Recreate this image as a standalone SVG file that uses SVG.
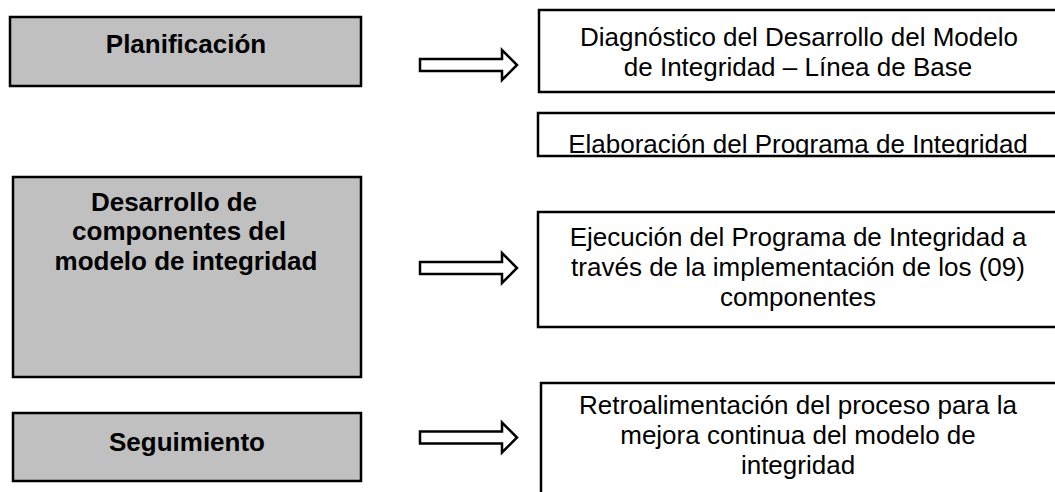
<svg xmlns="http://www.w3.org/2000/svg" xmlns:xlink="http://www.w3.org/1999/xlink" width="1055" height="492" viewBox="0 0 1055 492">
<style>
.phase{fill:#c0c0c0;stroke:#000;stroke-width:2.5}
.step{fill:#fff;stroke:#000;stroke-width:2.5}
.bt{font-family:"Liberation Sans",Arial,sans-serif;font-weight:bold;font-size:26px;fill:#000;text-anchor:middle}
.nt{font-family:"Liberation Sans",Arial,sans-serif;font-size:26px;fill:#000;text-anchor:middle}
.arr{fill:#fff;stroke:#000;stroke-width:2.5;stroke-linejoin:miter}
</style>
<defs>
<polygon id="arrow" points="0,-6 82,-6 82,-15 97,0 82,15 82,6 0,6"/>
<clipPath id="clipElab"><rect x="538" y="113" width="520" height="42"/></clipPath>
</defs>
<rect width="1055" height="492" fill="#fff"/>
<g id="planificacion">
<rect class="phase" x="10" y="17" width="351" height="69"/>
<text class="bt" x="186" y="53">Planificación</text>
</g>
<g id="desarrollo">
<rect class="phase" x="13" y="177" width="348" height="200"/>
<text class="bt" x="174" y="211">Desarrollo de</text>
<text class="bt" x="179" y="240">componentes del</text>
<text class="bt" x="186" y="270">modelo de integridad</text>
</g>
<g id="seguimiento">
<rect class="phase" x="13" y="413" width="348" height="68"/>
<text class="bt" x="187" y="451">Seguimiento</text>
</g>
<g id="diagnostico">
<rect class="step" x="539" y="10" width="525" height="82"/>
<text class="nt" x="799" y="46">Diagnóstico del Desarrollo del Modelo</text>
<text class="nt" x="798" y="76">de Integridad – Línea de Base</text>
</g>
<g id="elaboracion">
<text class="nt" x="798" y="153" clip-path="url(#clipElab)">Elaboración del Programa de Integridad</text>
<rect class="step" x="538" y="113" width="525" height="43" style="fill:none"/>
</g>
<g id="ejecucion">
<rect class="step" x="538" y="212" width="525" height="115"/>
<text class="nt" x="798" y="246">Ejecución del Programa de Integridad a</text>
<text class="nt" x="798" y="276">través de la implementación de los (09)</text>
<text class="nt" x="798" y="306">componentes</text>
</g>
<g id="retroalimentacion">
<rect class="step" x="541" y="383" width="525" height="120"/>
<text class="nt" x="798" y="414">Retroalimentación del proceso para la</text>
<text class="nt" x="798" y="444">mejora continua del modelo de</text>
<text class="nt" x="798" y="474">integridad</text>
</g>
<g id="connectors">
<use xlink:href="#arrow" class="arr" transform="translate(420,65)"/>
<use xlink:href="#arrow" class="arr" transform="translate(420,268)"/>
<use xlink:href="#arrow" class="arr" transform="translate(420,437.5)"/>
</g>
</svg>
